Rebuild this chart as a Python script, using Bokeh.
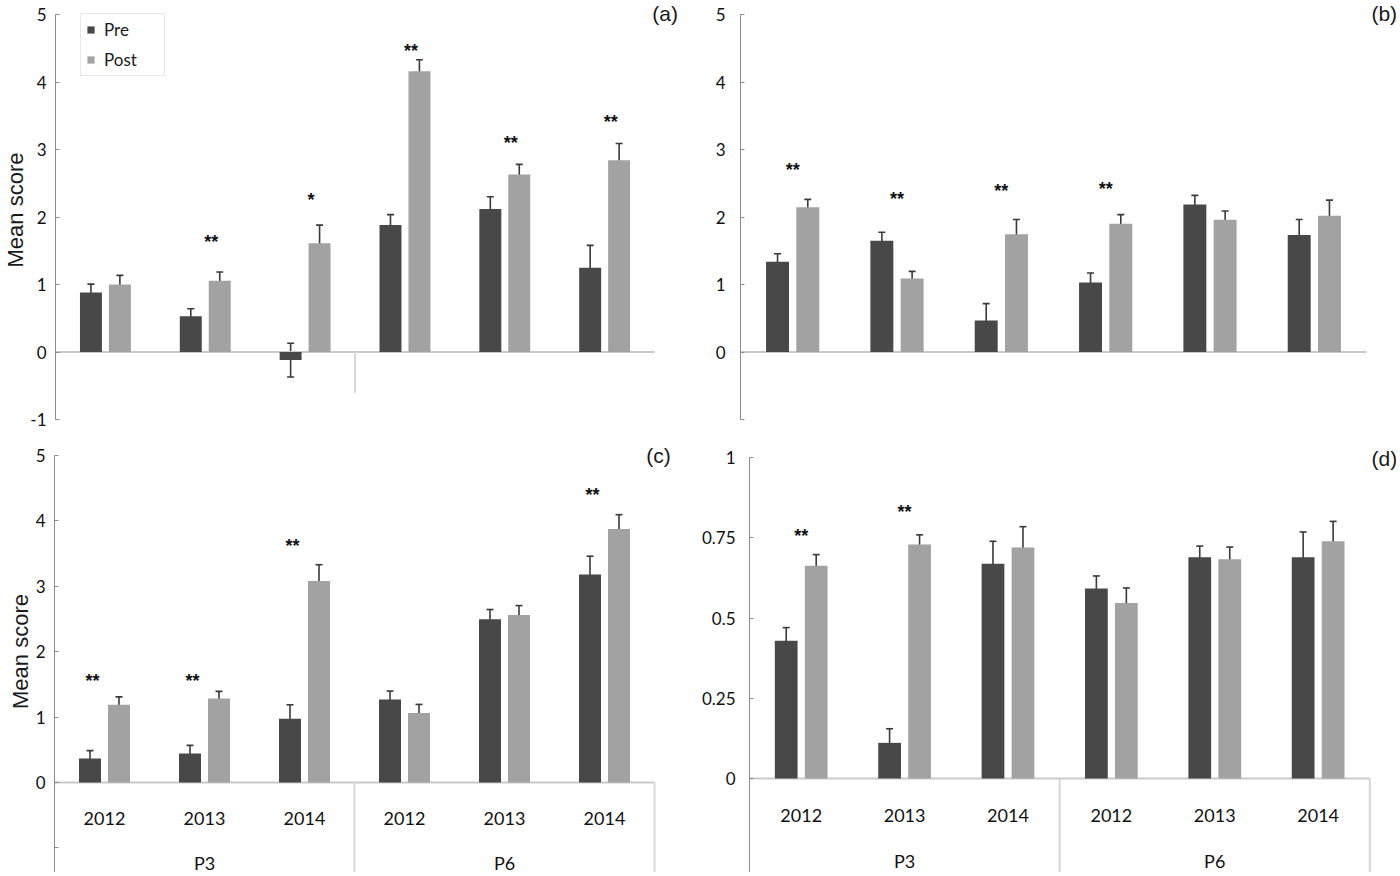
import math
from bokeh.plotting import figure
from bokeh.models import (Range1d, FixedTicker, Whisker, TeeHead, Title,
                          ColumnDataSource, Label, Legend, LegendItem)
from bokeh.transform import dodge
from bokeh.layouts import column, row
from bokeh.embed import file_html
from bokeh.resources import INLINE
from bokeh.core.properties import value

# ---------------- data ----------------
groups = ["P3", "P3", "P3", "P6", "P6", "P6"]
years = ["2012", "2013", "2014", "2012", "2013", "2014"]

a_pre = [0.88, 0.53, -0.12, 1.88, 2.12, 1.25]
a_pre_err = [0.125, 0.11, 0.25, 0.155, 0.18, 0.33]
a_post = [1.00, 1.055, 1.61, 4.16, 2.63, 2.84]
a_post_err = [0.135, 0.13, 0.27, 0.17, 0.15, 0.25]
a_star_idx = [1, 2, 3, 4, 5]
a_star_text = ["**", "*", "**", "**", "**"]
a_star_y = [1.71, 2.33, 4.53, 3.17, 3.48]

b_pre = [1.336, 1.65, 0.467, 1.03, 2.186, 1.734]
b_pre_err = [0.12, 0.125, 0.25, 0.14, 0.135, 0.23]
b_post = [2.146, 1.09, 1.744, 1.90, 1.96, 2.02]
b_post_err = [0.115, 0.105, 0.22, 0.135, 0.13, 0.23]
b_star_idx = [0, 1, 2, 3]
b_star_text = ["**", "**", "**", "**"]
b_star_y = [2.765, 2.343, 2.456, 2.495]

c_pre = [0.367, 0.443, 0.973, 1.268, 2.495, 3.18]
c_pre_err = [0.12, 0.125, 0.215, 0.13, 0.15, 0.28]
c_post = [1.19, 1.283, 3.08, 1.064, 2.56, 3.875]
c_post_err = [0.12, 0.11, 0.25, 0.13, 0.145, 0.22]
c_star_idx = [0, 1, 2, 5]
c_star_text = ["**", "**", "**", "**"]
c_star_y = [1.624, 1.624, 3.69, 4.47]

d_pre = [0.429, 0.111, 0.669, 0.592, 0.689, 0.689]
d_pre_err = [0.041, 0.044, 0.07, 0.039, 0.035, 0.079]
d_post = [0.6625, 0.729, 0.7195, 0.5466, 0.683, 0.739]
d_post_err = [0.035, 0.03, 0.065, 0.047, 0.038, 0.062]
d_star_idx = [0, 1]
d_star_text = ["**", "**"]
d_star_y = [0.771, 0.846]

ticks_5 = [-1, 0, 1, 2, 3, 4, 5]
ticks_1 = [0, 0.25, 0.5, 0.75, 1]
tick_labels_1 = ["0", "0.25", "0.5", "0.75", "1"]

# ---------------- style ----------------
PRE_C = "#484848"
POST_C = "#a2a2a2"
ERR_C = "#3a3a3a"
AXIS_C = "#8c8c8c"
BASE_C = "#c9c9c9"
BOX_C = "#d6d6d6"
NUM_FONT = "Lato"
SANS = "Liberation Sans"
OFF = 0.145
BW = 0.22


def make_panel(pre, pre_err, post, post_err, star_idx, star_text, star_y, *,
               W, H, left, fw, top_px, unit, y_top, bottom, ticks, overrides,
               standoff, tag, tag_xy, ylabel=False, mode="none", sep_px=0,
               year_px=None, group_px=None, star_dx=0.0, legend=False):
    n = len(years)
    px_x = fw / n
    x_end = n + (W - left - fw) / px_x
    y_end = y_top + top_px / unit
    frame_h = H - bottom
    y_start = y_end - frame_h / unit
    p = figure(width=W, height=H, x_range=Range1d(0, x_end), y_range=Range1d(y_start, y_end),
               x_axis_location=None, toolbar_location=None, output_backend="svg",
               min_border_left=left, min_border_right=0, min_border_top=0,
               min_border_bottom=bottom, outline_line_color=None,
               background_fill_color="white")
    p.grid.visible = False
    ax = p.yaxis[0]
    ax.ticker = FixedTicker(ticks=ticks)
    ax.major_label_overrides = overrides
    ax.bounds = (y_start if mode == "box" else min(ticks), y_top)
    ax.axis_line_color = AXIS_C
    ax.axis_line_width = 1
    ax.major_tick_line_color = AXIS_C
    ax.major_tick_in = 4
    ax.major_tick_out = 0
    ax.minor_tick_line_color = None
    ax.major_label_standoff = standoff
    ax.major_label_text_font = NUM_FONT
    ax.major_label_text_font_size = "17px"
    ax.major_label_text_color = "#111111"

    # baseline (category axis line) at zero
    p.segment(x0=[0], y0=[0], x1=[n], y1=[0], line_color=BASE_C, line_width=2)

    xs = [i + 0.5 for i in range(n)]
    src = ColumnDataSource(dict(
        x=xs, pre=pre, post=post,
        pre_hi=[v + e for v, e in zip(pre, pre_err)],
        pre_lo=[v - e for v, e in zip(pre, pre_err)],
        post_hi=[v + e for v, e in zip(post, post_err)],
        post_lo=[v - e for v, e in zip(post, post_err)],
    ))
    r_pre = p.vbar(x=dodge("x", -OFF), top="pre", bottom=0, width=BW,
                   source=src, fill_color=PRE_C, line_color=None)
    r_post = p.vbar(x=dodge("x", OFF), top="post", bottom=0, width=BW,
                    source=src, fill_color=POST_C, line_color=None)
    for col, off in (("pre", -OFF), ("post", OFF)):
        p.add_layout(Whisker(
            base=dodge("x", off), upper=col + "_hi", lower=col + "_lo",
            source=src, line_color=ERR_C, line_width=1.6,
            upper_head=TeeHead(size=7, line_color=ERR_C, line_width=1.6),
            lower_head=TeeHead(size=7, line_color=ERR_C, line_width=1.6)))

    # significance markers
    ssrc = ColumnDataSource(dict(x=[xs[i] for i in star_idx], y=star_y, text=star_text))
    p.text(x=dodge("x", star_dx), y="y", text="text", source=ssrc,
           text_align="center", text_baseline="middle", y_offset=5,
           text_font=value(SANS), text_font_size="18px", text_font_style="bold",
           text_color="#111111")

    # group boundaries from the category list
    bounds = [0]
    for i in range(1, n):
        if groups[i] != groups[i - 1]:
            bounds.append(i)
    bounds.append(n)

    if mode == "sep":
        inner = bounds[1:-1]
        p.segment(x0=inner, y0=[0] * len(inner), x1=inner,
                  y1=[-sep_px / unit] * len(inner), line_color=BOX_C, line_width=2)
    elif mode == "box":
        edges = bounds[1:]
        p.segment(x0=edges, y0=[0] * len(edges), x1=edges, y1=[y_start] * len(edges),
                  line_color=BOX_C, line_width=2)
        ysrc = ColumnDataSource(dict(x=xs, y=[-year_px / unit] * n, text=years))
        p.text(x="x", y="y", text="text", source=ysrc, text_align="center",
               text_baseline="middle", text_font=value(NUM_FONT), text_font_size="18px",
               text_color="#111111")
        gnames, gx = [], []
        for b0, b1 in zip(bounds[:-1], bounds[1:]):
            gnames.append(groups[b0])
            gx.append((b0 + b1) / 2)
        gsrc = ColumnDataSource(dict(x=gx, y=[-group_px / unit] * len(gx), text=gnames))
        p.text(x="x", y="y", text="text", source=gsrc, text_align="center",
               text_baseline="middle", text_font=value(NUM_FONT), text_font_size="18px",
               text_color="#111111")

    p.add_layout(Label(x=tag_xy[0], y=tag_xy[1], text=tag, text_align="center",
                       text_baseline="middle", text_font=SANS, text_font_size="21px",
                       text_color="#1a1a1a"))
    if ylabel:
        p.add_layout(Title(text="Mean score", align="center", standoff=0,
                           text_font=SANS, text_font_size="22px",
                           text_font_style="normal", text_color="#1a1a1a"), "left")
    if legend:
        lg = Legend(items=[LegendItem(label="Pre", renderers=[r_pre]),
                           LegendItem(label="Post", renderers=[r_post])],
                    location=(25, frame_h - 76), border_line_color="#cfcfcf",
                    border_line_width=1, padding=5, spacing=9, glyph_width=9,
                    glyph_height=9, label_height=16, label_width=55, label_standoff=9,
                    label_text_font=NUM_FONT, label_text_font_size="17px",
                    label_text_color="#1a1a1a", margin=0)
        p.add_layout(lg)
    return p


ov5 = {t: str(t) for t in ticks_5}
ov5_hidden = dict(ov5)
ov5_hidden[-1] = ""
ov1 = {t: s for t, s in zip(ticks_1, tick_labels_1)}

# panel (a)
pa = make_panel(a_pre, a_pre_err, a_post, a_post_err, a_star_idx, a_star_text, a_star_y,
                W=698, H=430, left=54, fw=600, top_px=14, unit=67.5, y_top=5, bottom=11,
                ticks=ticks_5, overrides=ov5, standoff=9, tag="(a)",
                tag_xy=(6.105, 5.015), ylabel=True, mode="sep", sep_px=41,
                star_dx=0.06, legend=True)
# panel (b)
pb = make_panel(b_pre, b_pre_err, b_post, b_post_err, b_star_idx, b_star_text, b_star_y,
                W=698, H=430, left=42, fw=626, top_px=14, unit=67.5, y_top=5, bottom=11,
                ticks=ticks_5, overrides=ov5_hidden, standoff=15, tag="(b)",
                tag_xy=(6.17, 5.015), mode="none", star_dx=0.0)
# panel (c)
pc = make_panel(c_pre, c_pre_err, c_post, c_post_err, c_star_idx, c_star_text, c_star_y,
                W=698, H=442, left=54, fw=600, top_px=25, unit=65.4, y_top=5, bottom=0,
                ticks=ticks_5, overrides=ov5_hidden, standoff=9, tag="(c)",
                tag_xy=(6.04, 5.0), ylabel=True, mode="box",
                year_px=36, group_px=80, star_dx=-0.12)
# panel (d)
pd_ = make_panel(d_pre, d_pre_err, d_post, d_post_err, d_star_idx, d_star_text, d_star_y,
                 W=698, H=442, left=43, fw=628, top_px=27, unit=321.0, y_top=1, bottom=0,
                 ticks=ticks_1, overrides=ov1, standoff=14, tag="(d)",
                 tag_xy=(6.14, 0.997), mode="box", year_px=37, group_px=82, star_dx=0.0)

layout = column(row(pa, pb), row(pc, pd_))
open("out.html", "w").write(file_html(layout, INLINE))
